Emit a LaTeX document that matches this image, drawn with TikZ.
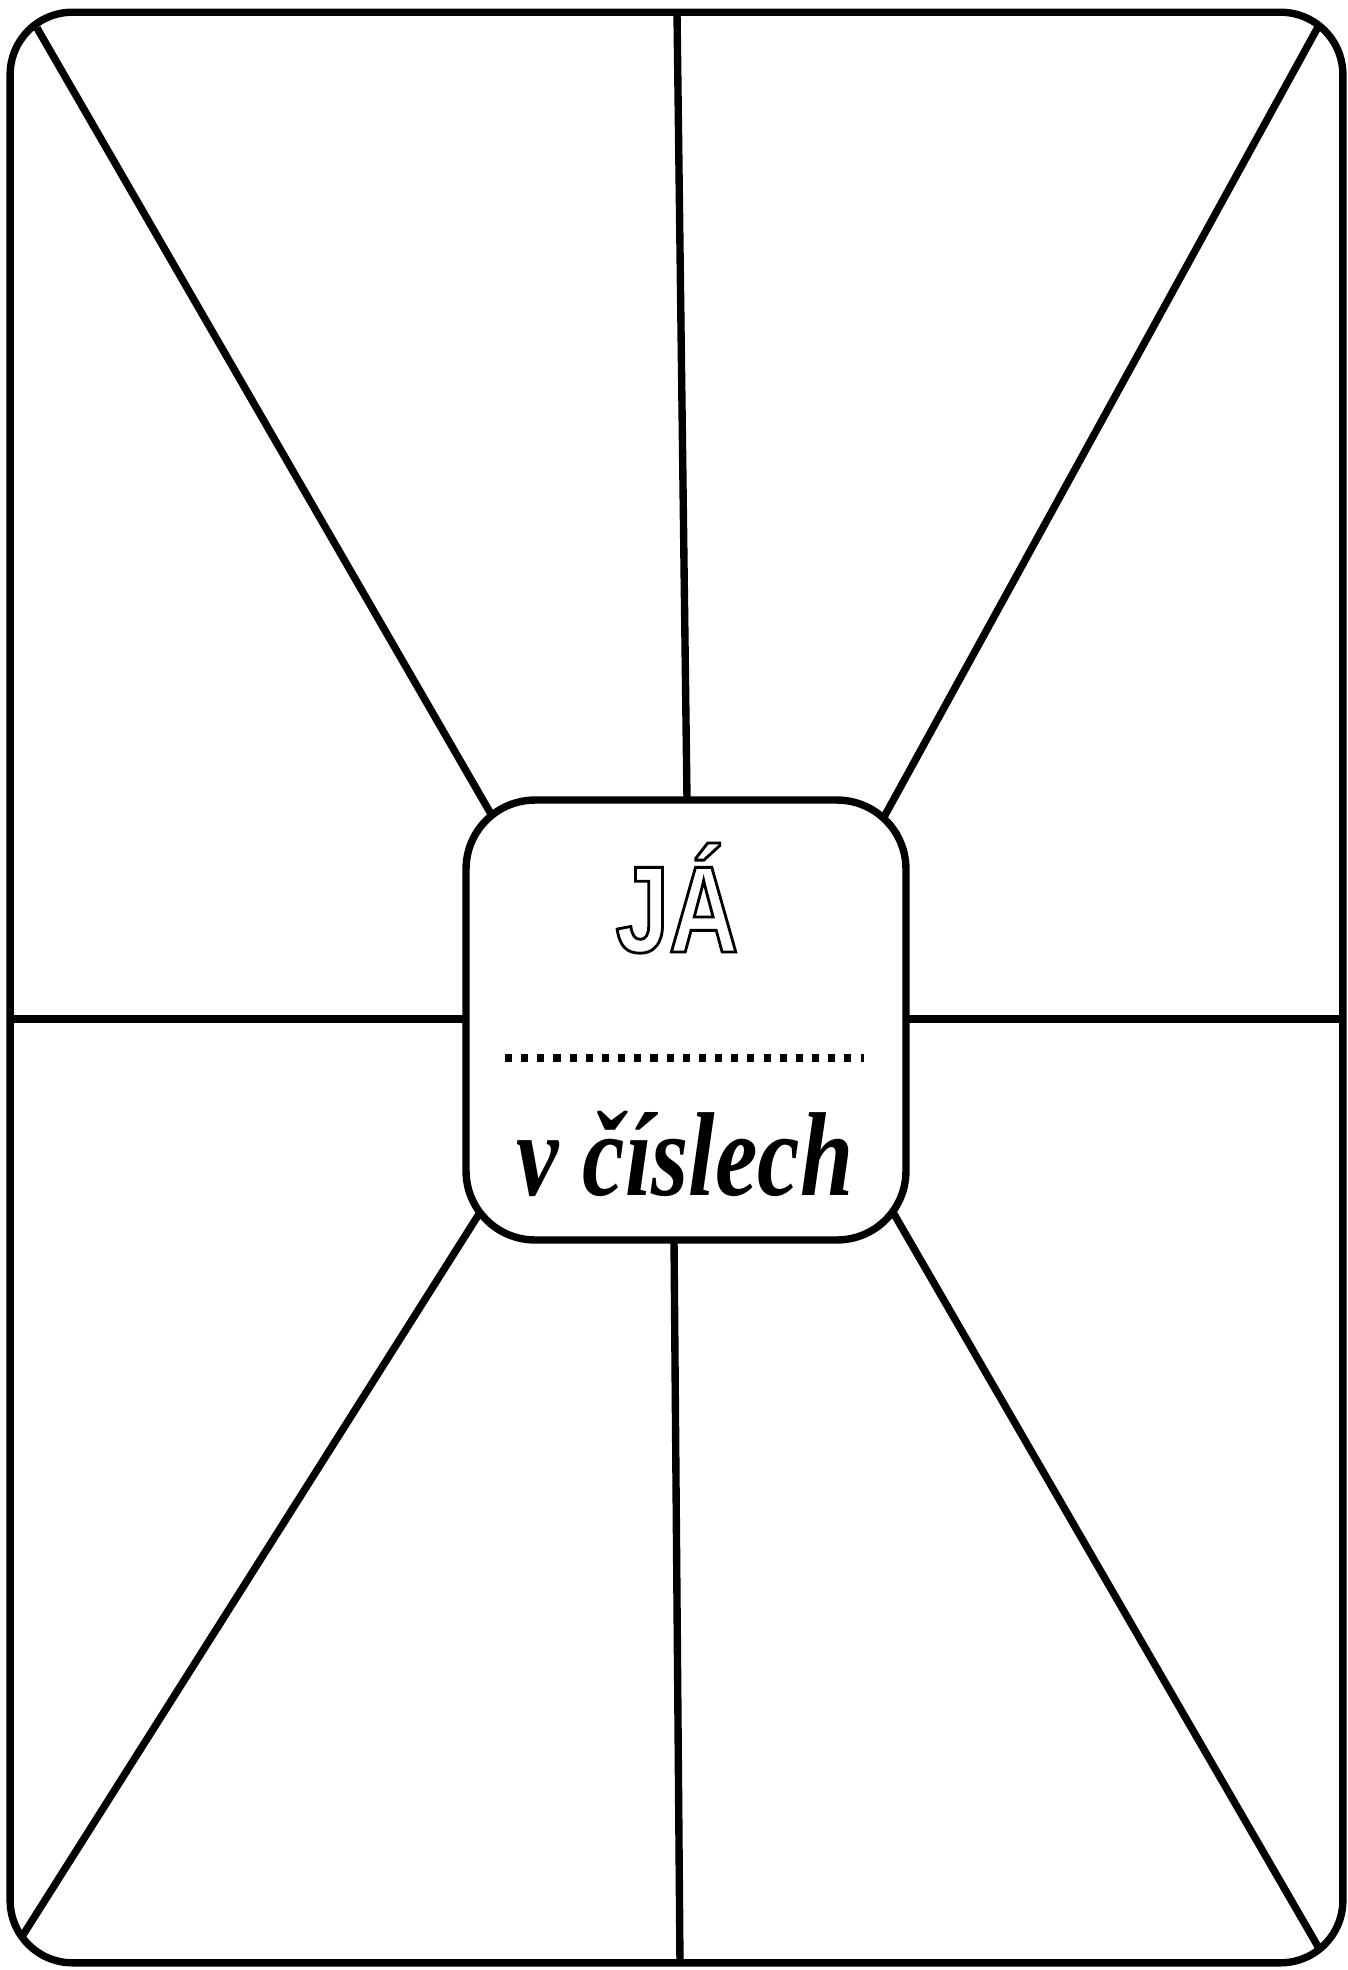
\documentclass[tikz,border=0pt]{standalone}
\usepackage{fontspec}
\usepackage{tikz}
\usetikzlibrary{positioning,calc}

\newfontfamily\headfont{Liberation Sans}[FakeStretch=0.78]
\newfontfamily\brushfont{Liberation Serif}[FakeStretch=0.8]
% hollow letters: stroke only
\newcommand{\hollow}[1]{\special{pdf:literal direct 1 Tr 1.6 w}#1\special{pdf:literal direct 0 Tr}}

\begin{document}
\begin{tikzpicture}[
  x=0.02cm,y=-0.02cm,
  frame/.style={rectangle,draw,line width=4.2pt,rounded corners=1.25cm,minimum width=26.66cm,minimum height=39.02cm},
  core/.style={rectangle,draw,fill=white,line width=4.2pt,rounded corners=1.38cm,minimum width=8.8cm,minimum height=8.8cm},
  spoke/.style={line width=4.2pt},
  dotline/.style={line width=4pt,dash pattern=on 4pt off 5.2pt},
  title/.style={font=\headfont\bfseries\fontsize{70}{80}\selectfont,anchor=base,inner sep=0pt},
  subtitle/.style={font=\brushfont\bfseries\itshape\fontsize{68}{74}\selectfont,anchor=base,inner sep=0pt}
]
\fill[white] (0,0) rectangle (1348,1970);
\useasboundingbox (0,0) rectangle (1348,1970);

% outer ends of the spokes
\coordinate (o1) at (37,28);
\coordinate (o2) at (677,13);
\coordinate (o3) at (1318,27);
\coordinate (o4) at (11,1019);
\coordinate (o5) at (1344,1019);
\coordinate (o6) at (23,1935);
\coordinate (o7) at (680,1964);
\coordinate (o8) at (1320,1950);
% inner ends of the spokes
\coordinate (i1) at (491,814);
\coordinate (i2) at (687,800);
\coordinate (i3) at (884,817);
\coordinate (i4) at (466,1019);
\coordinate (i5) at (906,1019);
\coordinate (i6) at (479,1214);
\coordinate (i7) at (674,1240);
\coordinate (i8) at (894,1214);

\foreach \i in {1,...,8} { \draw[spoke] (o\i) -- (i\i); }

\node[frame] (frame) at (676.5,987.5) {};
\node[core] (core) at (686,1020) {};

\node[title] (ja) at (677,952) {\hollow{JÁ}};
\coordinate (dl) at (505,1058);
\coordinate (dr) at (864,1058);
\draw[dotline] (dl) -- (dr);
\node[subtitle] (numbers) at (685,1195) {v číslech};
\end{tikzpicture}
\end{document}
